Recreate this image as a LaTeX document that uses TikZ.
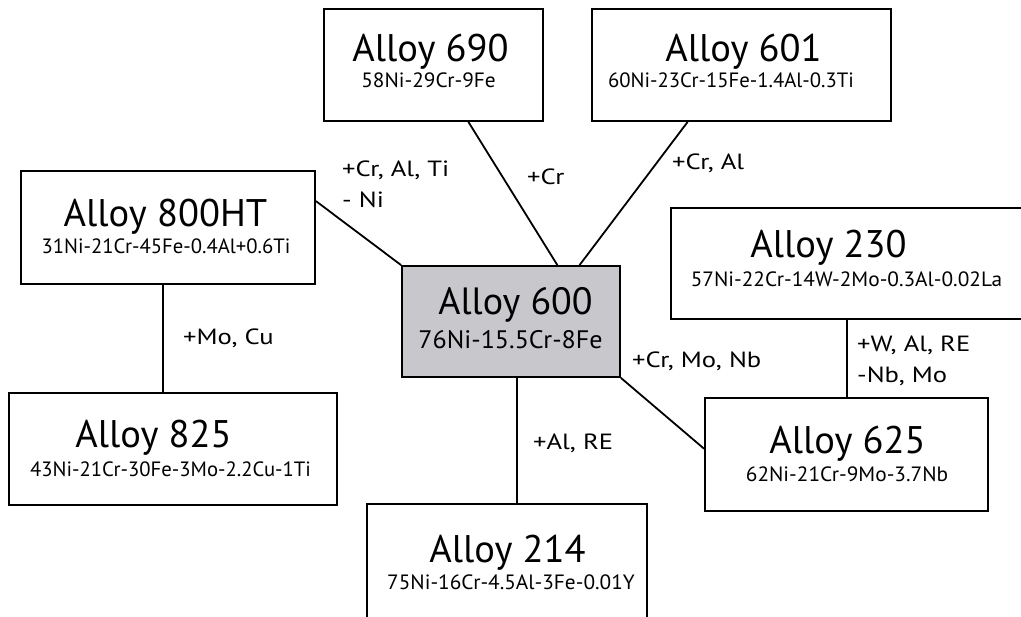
\documentclass[tikz,border=0pt]{standalone}
\usepackage{fontspec}
\setmainfont{PT Sans}
\newfontfamily\lblfont[FakeStretch=1.21]{PT Sans}
\newfontfamily\subfont[FakeStretch=1.03]{PT Sans}
\usetikzlibrary{calc}
\definecolor{boxgray}{RGB}{199,199,204}
\tikzset{
 box/.style={draw, line width=1.8pt, rectangle, inner sep=0pt},
 ttl/.style={anchor=base, inner sep=0pt, font=\fontsize{38.5}{40}\selectfont},
 sub/.style={anchor=base, inner sep=0pt, font=\subfont\fontsize{20.7}{24}\selectfont},
 subn/.style={anchor=base, inner sep=0pt, font=\fontsize{20.7}{24}\selectfont},
 ttlc/.style={anchor=base, inner sep=0pt, font=\fontsize{38}{40}\selectfont},
 subc/.style={anchor=base, inner sep=0pt, font=\subfont\fontsize{25.3}{28}\selectfont},
 lbl/.style={anchor=base west, inner sep=0pt, font=\lblfont\fontsize{22}{24}\selectfont},
 conn/.style={line width=1.8pt}
}
\begin{document}
\begin{tikzpicture}[x=1pt,y=-1pt]
\useasboundingbox (0,0) rectangle (1021,617);
\begin{scope}
\clip (0,0) rectangle (1021,617);
% boxes
\node[box, minimum width=219pt, minimum height=112pt] (b690) at (433.5,65) {};
\node[box, minimum width=299pt, minimum height=112pt] (b601) at (741.5,65) {};
\node[box, minimum width=294pt, minimum height=113pt] (b800) at (168,227.5) {};
\node[box, fill=boxgray, minimum width=218pt, minimum height=111pt] (b600) at (511,321.5) {};
\node[box, minimum width=359pt, minimum height=111pt] (b230) at (850.5,263.5) {};
\node[box, minimum width=283pt, minimum height=113pt] (b625) at (846.5,454.5) {};
\node[box, minimum width=328pt, minimum height=112pt] (b825) at (173,449) {};
\node[box, minimum width=280pt, minimum height=126pt] (b214) at (507,567) {};
% texts
\node[ttl] (t690) at (430.5,62) {Alloy 690};
\node[sub] (s690) at (428.5,88) {58Ni-29Cr-9Fe};
\node[ttl] (t601) at (743.5,62) {Alloy 601};
\node[subn] (s601) at (731,88) {60Ni-23Cr-15Fe-1.4Al-0.3Ti};
\node[ttl] (t800) at (165.5,227) {Alloy 800HT};
\node[subn] (s800) at (166,254) {31Ni-21Cr-45Fe-0.4Al+0.6Ti};
\node[ttlc] (t600) at (515.5,315) {Alloy 600};
\node[subc] (s600) at (510.5,349) {76Ni-15.5Cr-8Fe};
\node[ttl] (t230) at (828.5,258) {Alloy 230};
\node[sub] (s230) at (846.5,287) {57Ni-22Cr-14W-2Mo-0.3Al-0.02La};
\node[ttl] (t625) at (847.5,454) {Alloy 625};
\node[sub] (s625) at (847,482) {62Ni-21Cr-9Mo-3.7Nb};
\node[ttl] (t825) at (153.5,448) {Alloy 825};
\node[subn] (s825) at (170.5,477) {43Ni-21Cr-30Fe-3Mo-2.2Cu-1Ti};
\node[ttl] (t214) at (507.5,562) {Alloy 214};
\node[sub] (s214) at (511,590) {75Ni-16Cr-4.5Al-3Fe-0.01Y};
% connectors
\draw[conn] ($(b800.north east)!0.27!(b800.south east)$) -- (b600.north west);
\draw[conn] ($(b690.south west)!0.658!(b690.south east)$) -- ($(b600.north west)!0.711!(b600.north east)$);
\draw[conn] ($(b601.south west)!0.321!(b601.south east)$) -- ($(b600.north west)!0.812!(b600.north east)$);
\coordinate (p825) at ($(b800.south west)!0.483!(b800.south east)$);
\draw[conn] (p825) -- (p825 |- b825.north);
\coordinate (p214) at ($(b600.south west)!0.528!(b600.south east)$);
\draw[conn] (p214) -- (p214 |- b214.north);
\draw[conn] (b600.south east) -- ($(b625.north west)!0.45!(b625.south west)$);
\coordinate (p625) at ($(b230.south west)!0.490!(b230.south east)$);
\draw[conn] (p625) -- (p625 |- b625.north);
% labels
\node[lbl] (l1a) at (342,177) {+Cr, Al, Ti};
\node[lbl] (l1b) at (342,208) {- Ni};
\node[lbl] (l2) at (527,185) {+Cr};
\node[lbl] (l3) at (672,170) {+Cr, Al};
\node[lbl] (l4) at (183,345) {+Mo, Cu};
\node[lbl] (l5) at (533,450) {+Al, RE};
\node[lbl] (l6) at (632,368) {+Cr, Mo, Nb};
\node[lbl] (l7a) at (857,352) {+W, Al, RE};
\node[lbl] (l7b) at (857,383) {-Nb, Mo};
\end{scope}
\end{tikzpicture}
\end{document}
